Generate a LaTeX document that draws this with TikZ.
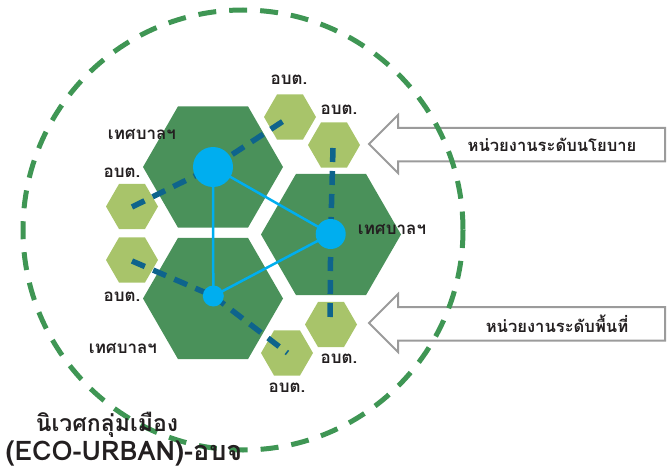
\documentclass[tikz,border=0pt]{standalone}
\usepackage{fontspec}
\newfontfamily\thaifont[Script=Thai]{Loma}
\usetikzlibrary{shapes.geometric}
\definecolor{biggreen}{RGB}{74,145,90}
\definecolor{smallgreen}{RGB}{168,196,106}
\definecolor{ringgreen}{RGB}{63,150,84}
\definecolor{darkblue}{RGB}{14,100,140}
\definecolor{cyanblue}{RGB}{0,174,239}
\definecolor{arrowgray}{RGB}{155,155,155}
\definecolor{txt}{RGB}{35,31,32}
\tikzset{
  bighex/.style={regular polygon, regular polygon sides=6, minimum size=140pt, inner sep=0pt, outer sep=0pt, fill=biggreen},
  smallhex/.style={regular polygon, regular polygon sides=6, minimum size=52pt, inner sep=0pt, outer sep=0pt, fill=smallgreen},
  dot/.style={circle, fill=cyanblue, inner sep=0pt, outer sep=0pt},
  link/.style={draw=cyanblue, line width=2.5pt},
  dlink/.style={draw=darkblue, line width=5.5pt, dash pattern=on 14pt off 9pt},
  lbl/.style={font=\thaifont\bfseries\fontsize{17}{20}\selectfont, text=txt, inner sep=0pt},
  arrowtxt/.style={lbl, font=\thaifont\bfseries\fontsize{16.6}{20}\selectfont},
  title/.style={lbl, font=\thaifont\bfseries\fontsize{23}{28}\selectfont},
  arrowbox/.style={draw=arrowgray, line width=2pt, line join=miter},
  ring/.style={draw=ringgreen, line width=5pt, dash pattern=on 18pt off 13pt}
}
\begin{document}
\begin{tikzpicture}[x=1pt,y=-1pt]
\useasboundingbox (0,0) rectangle (669,473);
% arrows
\draw[arrowbox] (369,144) -- (398,115) -- (398,128) -- (665,128) -- (665,161.5) -- (398,161.5) -- (398,173) -- cycle;
\draw[arrowbox] (369,323) -- (398,294) -- (398,307) -- (665,307) -- (665,340.5) -- (398,340.5) -- (398,352) -- cycle;
\node[arrowtxt] (t1) at (552,145) {หน่วยงานระดับนโยบาย};
\node[arrowtxt] (t2) at (557,324) {หน่วยงานระดับพื้นที่};
% ring
\draw[ring] (243,230) circle (220);
% big hexagons
\node[bighex] (h1) at (213,167) {};
\node[bighex] (h2) at (213,298.5) {};
\node[bighex] (h3) at (331,234.5) {};
% small hexagons
\node[smallhex] (sA) at (290,117) {};
\node[smallhex] (sB) at (334,145) {};
\node[smallhex] (sC) at (132,206.5) {};
\node[smallhex] (sD) at (132,260) {};
\node[smallhex] (sE) at (287,353) {};
\node[smallhex] (sF) at (331,324.5) {};
% connector end points
\coordinate (c1) at (213,167);
\coordinate (c2) at (213.3,296);
\coordinate (c3) at (330.7,234);
\coordinate (eA) at (288,118);
\coordinate (eB) at (333,148);
\coordinate (eC) at (132,207);
\coordinate (eD) at (132,261);
\coordinate (eE) at (287.5,353);
\coordinate (eF) at (330,325);
% dashed links
\draw[dlink] (eC) -- (c1);
\draw[dlink] (c1) -- (eA);
\draw[dlink] (eB) -- (c3);
\draw[dlink] (c3) -- (eF);
\draw[dlink] (eD) -- (c2);
\draw[dlink] (c2) -- (eE);
% solid links
\draw[link] (c1) -- (c2);
\draw[link] (c1) -- (c3);
\draw[link] (c2) -- (c3);
% dots
\node[dot, minimum size=40pt] (d1) at (c1) {};
\node[dot, minimum size=30pt] (d3) at (c3) {};
\node[dot, minimum size=21pt] (d2) at (c2) {};
% labels
\node[lbl] (lA) at (289,80) {อบต.};
\node[lbl] (lB) at (339,110) {อบต.};
\node[lbl] (lC) at (122,173) {อบต.};
\node[lbl] (lD) at (122,297) {อบต.};
\node[lbl] (lE) at (287,388) {อบต.};
\node[lbl] (lF) at (339,359) {อบต.};
\node[lbl] (m1) at (142,134) {เทศบาลฯ};
\node[lbl] (m3) at (392,229) {เทศบาลฯ};
\node[lbl] (m2) at (123,348) {เทศบาลฯ};
% bottom title
\node[title] (b1) at (107,425) {นิเวศกลุ่มเมือง};
\node[title, font=\thaifont\bfseries\fontsize{27}{30}\selectfont] (b2) at (124,454) {(ECO-URBAN)-อบจ};
\end{tikzpicture}
\end{document}
